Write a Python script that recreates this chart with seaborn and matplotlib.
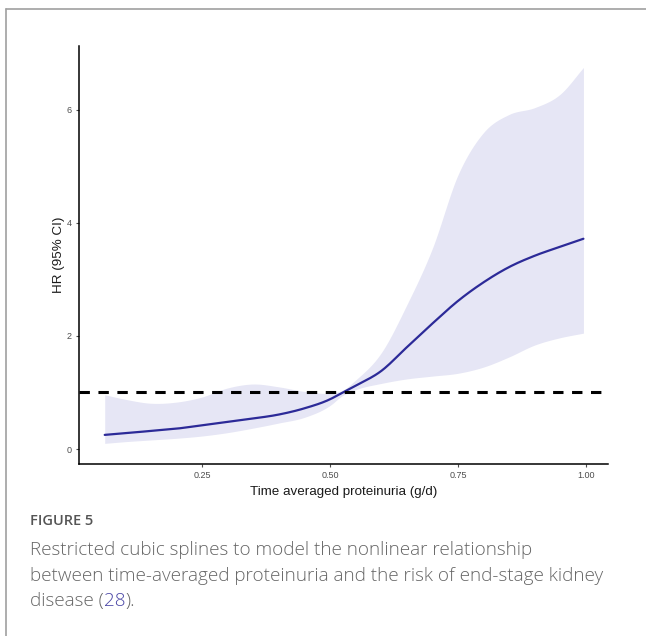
import matplotlib
matplotlib.use("Agg")
import matplotlib.pyplot as plt
import seaborn as sns
import numpy as np
import pandas as pd

# ---- data ----
proteinuria = [0.06, 0.10, 0.15, 0.20, 0.25, 0.30, 0.35, 0.40, 0.45, 0.50, 0.525,
               0.55, 0.60, 0.65, 0.70, 0.75, 0.80, 0.85, 0.90, 0.95, 0.995]
hr = [0.25, 0.28, 0.32, 0.36, 0.42, 0.48, 0.54, 0.61, 0.72, 0.88, 1.00,
      1.12, 1.38, 1.80, 2.22, 2.62, 2.95, 3.22, 3.42, 3.58, 3.72]
ci_upper = [0.96, 0.88, 0.81, 0.83, 0.92, 1.08, 1.15, 1.10, 1.02, 0.99, 1.04,
            1.22, 1.70, 2.55, 3.55, 4.85, 5.60, 5.92, 6.04, 6.28, 6.75]
ci_lower = [0.10, 0.13, 0.16, 0.19, 0.23, 0.29, 0.37, 0.46, 0.56, 0.77, 0.95,
            1.05, 1.16, 1.24, 1.29, 1.34, 1.45, 1.63, 1.84, 1.97, 2.05]
x_ticks = [0.25, 0.50, 0.75, 1.00]
x_tick_labels = ["0.25", "0.50", "0.75", "1.00"]
y_ticks = [0, 2, 4, 6]
reference_hr = 1

df = pd.DataFrame({"x": proteinuria, "hr": hr, "lo": ci_lower, "hi": ci_upper})

sns.set_theme(style="ticks")
plt.rcParams["font.family"] = ["Liberation Sans", "DejaVu Sans"]

W, H = 646, 636
fig = plt.figure(figsize=(W / 100, H / 100), dpi=100)

# card border (top + left only)
fig.add_artist(plt.Line2D([6 / W, 1], [1 - 9 / H, 1 - 9 / H], color="#a0a0a0", lw=1.2))
fig.add_artist(plt.Line2D([6 / W, 6 / W], [0, 1 - 9 / H], color="#a0a0a0", lw=1.2))

ax = fig.add_axes([79 / W, (H - 464) / H, (608 - 79) / W, (464 - 46) / H])

xs = np.linspace(df["x"].min(), df["x"].max(), 300)


def smooth(y):
    # cubic hermite through the read points, for a smooth spline look
    x = df["x"].to_numpy()
    y = np.asarray(y, float)
    m = np.gradient(y, x)
    idx = np.clip(np.searchsorted(x, xs) - 1, 0, len(x) - 2)
    h = x[idx + 1] - x[idx]
    t = (xs - x[idx]) / h
    h00 = 2 * t**3 - 3 * t**2 + 1
    h10 = t**3 - 2 * t**2 + t
    h01 = -2 * t**3 + 3 * t**2
    h11 = t**3 - t**2
    return h00 * y[idx] + h10 * h * m[idx] + h01 * y[idx + 1] + h11 * h * m[idx + 1]


ax.fill_between(xs, smooth(df["lo"]), smooth(df["hi"]), color="#e6e6f5", lw=0)
sns.lineplot(x=xs, y=smooth(df["hr"]), ax=ax, color="#2c2a98", lw=1.6)
ax.axhline(reference_hr, color="black", lw=2.2, ls=(0, (3.4, 2.8)))

ax.set_xlim(0.0098, 1.043)
ax.set_ylim(-0.265, 7.13)
ax.set_xticks(x_ticks)
ax.set_xticklabels(x_tick_labels)
ax.set_yticks(y_ticks)
ax.tick_params(axis="both", labelsize=6.5, labelcolor="#4d4d4d", color="#4d4d4d",
               length=2.5, width=0.8, pad=2.5)
for s in ["top", "right"]:
    ax.spines[s].set_visible(False)
for s in ["left", "bottom"]:
    ax.spines[s].set_color("black")
    ax.spines[s].set_linewidth(1.1)

ax.set_xlabel("Time averaged proteinuria (g/d)", fontsize=9.6, color="#1a1a1a", labelpad=4.5)
ax.set_ylabel("HR (95% CI)", fontsize=9.6, color="#1a1a1a", labelpad=1.5)

# caption
cap_font = ["Open Sans", "DejaVu Sans"]
cap_size = 13.6
fig.text(30 / W, 1 - 521 / H, "FIGURE 5", fontsize=10.5, color="#555555",
         family=cap_font, weight="semibold", va="center")
fig.text(30 / W, 1 - 550 / H, "Restricted cubic splines to model the nonlinear relationship",
         fontsize=cap_size, color="#666666", family=cap_font, weight="light", va="center")
fig.text(30 / W, 1 - 576 / H, "between time-averaged proteinuria and the risk of end-stage kidney",
         fontsize=cap_size, color="#666666", family=cap_font, weight="light", va="center")
t1 = fig.text(30 / W, 1 - 601 / H, "disease (", fontsize=cap_size, color="#666666",
              family=cap_font, weight="light", va="center")
fig.canvas.draw()
bb = t1.get_window_extent()
t2 = fig.text(bb.x1 / W, 1 - 601 / H, "28", fontsize=cap_size, color="#4b47a6",
              family=cap_font, weight="light", va="center")
fig.canvas.draw()
bb2 = t2.get_window_extent()
fig.text(bb2.x1 / W, 1 - 601 / H, ").", fontsize=cap_size, color="#666666",
         family=cap_font, weight="light", va="center")

fig.savefig("out.png", dpi=100)
